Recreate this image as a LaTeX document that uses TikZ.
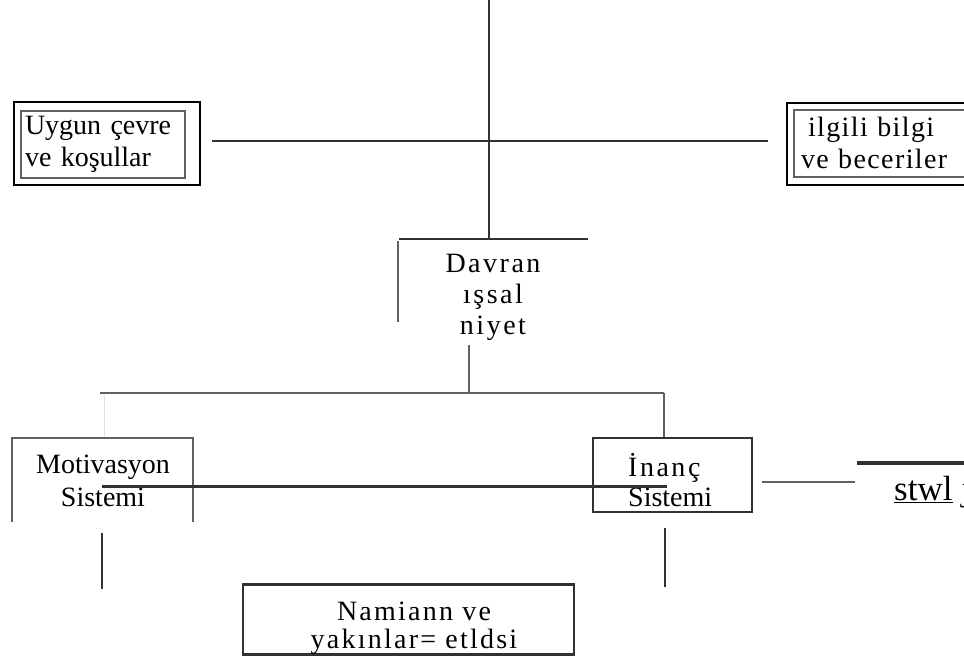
\documentclass[tikz,border=0pt]{standalone}
\usepackage{fontspec}
\setmainfont{Liberation Serif}
\usetikzlibrary{positioning}

\definecolor{ink}{RGB}{48,52,48}
\definecolor{lead}{RGB}{92,98,92}

\tikzset{
  txt/.style={font=\fontsize{28}{32}\selectfont, inner sep=0pt, align=center},
  wire/.style={draw=ink, line width=2.5pt},
  thinwire/.style={draw=lead, line width=2pt},
  framebox/.style={draw=lead, line width=2pt, inner sep=0pt},
}

\begin{document}
\begin{tikzpicture}[x=1pt,y=-1pt]
  \useasboundingbox (0,0) rectangle (964,656);

  % double framed boxes
  \node[framebox, minimum width=164pt, minimum height=67pt, text width=156pt,
        align=left, font=\fontsize{28}{32}\selectfont] (uygun) at (103,144)
        {Uygun çevre\\ve koşullar};
  \draw[black, line width=2pt] ([shift={(-6,-8)}]uygun.north west) rectangle ([shift={(14,6)}]uygun.south east);
  \node[framebox, minimum width=180pt, minimum height=67pt, text width=166pt,
        align=left, font=\fontsize{28}{32}\selectfont\addfontfeature{LetterSpace=5}] (bilgi) at (884,143)
        {\hspace*{7pt}ilgili bilgi\\ve beceriler};
  \draw[black, line width=2pt] ([shift={(-6,-6)}]bilgi.north west) rectangle ([shift={(6,7)}]bilgi.south east);

  % cross
  \coordinate (top) at (489,0);
  \coordinate (davtop) at (489,239);
  \coordinate (hl) at (212,141);
  \coordinate (hr) at (768,141);
  \draw[wire] (top) -- (davtop);
  \draw[ink, line width=2pt] (hl) -- (hr);

  % Davranissal niyet
  \draw[ink, line width=2.5pt] (399,239) -- (588,239);
  \draw[lead, line width=2.5pt] (398,241) -- (398,322);
  \node[txt, font=\fontsize{28}{31}\selectfont\addfontfeature{LetterSpace=9}] (davran) at (493,297)
        {Davran\\ışsal\\niyet};

  % branch
  \coordinate (niy) at (469,345);
  \coordinate (bl) at (100,393);
  \coordinate (br) at (664,393);
  \draw[lead, line width=1.5pt] (niy) -- (niy |- bl);
  \draw[lead, line width=2.5pt] (bl) -- (br);
  \draw[black!12, line width=1pt] (104,395) -- (104,437);

  % Motivasyon Sistemi
  \draw[lead, line width=2pt] (12,522) -- (12,438) -- (193,438) -- (193,522);
  \node[txt, font=\fontsize{28}{33}\selectfont] (motiv) at (103,481) {Motivasyon\\Sistemi};

  % Inanc Sistemi
  \node[draw=ink, line width=2.5pt, minimum width=159pt, minimum height=74pt] (inanc) at (672.5,475) {};
  \node[txt, align=left, anchor=west, font=\fontsize{28}{30}\selectfont] (inanctxt) at (628,480)
        {{\addfontfeature{LetterSpace=9}İnanç}\\Sistemi};
  \draw[lead, line width=1.5pt] (br) -- (inanc.north -| br);

  \coordinate (ml) at (102,486);
  \coordinate (mr) at (667,486);
  \draw[ink, line width=3pt] (ml) -- (mr);

  % drops
  \draw[ink, line width=2pt] (102,533) -- (102,589);
  \draw[ink, line width=2pt] (665,528) -- (665,587);

  % right side
  \coordinate (sl) at (762,482);
  \coordinate (sr) at (855,482);
  \draw[lead, line width=2pt] (sl) -- (sr);
  \coordinate (ul) at (857,463);
  \coordinate (ur) at (970,463);
  \draw[ink, line width=3.5pt] (ul) -- (ur);
  \node[inner sep=0pt, anchor=base west, font=\fontsize{35}{38}\selectfont] (stwl) at (894,500) {\underline{stwl} j};

  % Namiann ve
  \node[draw=ink, line width=2.5pt, minimum width=331pt, minimum height=70pt] (namiann) at (408.5,619.5) {};
  \node[txt, font=\fontsize{28}{28}\selectfont\addfontfeature{LetterSpace=8}] (namtxt) at (414,628)
        {Namiann ve\\yakınlar= etldsi};
\end{tikzpicture}
\end{document}
